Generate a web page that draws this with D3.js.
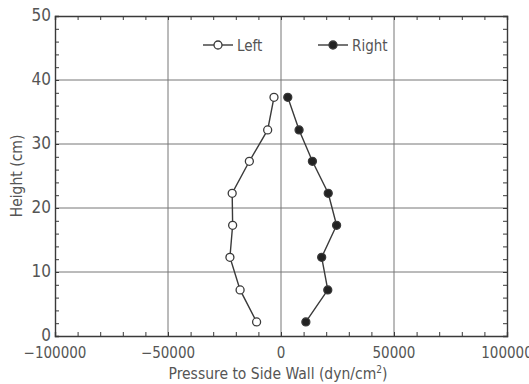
<!DOCTYPE html>
<html><head><meta charset="utf-8">
<script src="https://cdn.jsdelivr.net/npm/d3@7"></script>
<style>
body{margin:0;background:#fff;}
text{font-family:"Liberation Sans Narrow","DejaVu Sans Condensed","Liberation Sans",sans-serif;fill:#555;}
</style></head>
<body><svg id="c" width="529" height="384"></svg>
<script>
const heights = [37.3, 32.2, 27.3, 22.3, 17.3, 12.3, 7.2, 2.2];
const leftValues = [-3100, -5900, -14000, -21600, -21400, -22600, -18100, -10800];
const rightValues = [3000, 8000, 13900, 20900, 24600, 18000, 20700, 11000];
const xTicks = [-100000, -50000, 0, 50000, 100000];
const yTicks = [0, 10, 20, 30, 40, 50];
const seriesNames = ["Left", "Right"];

const svg = d3.select("#c");
const m = {l:55, r:22, t:16, b:48};
const W = 529, H = 384;
const x = d3.scaleLinear().domain([-100000, 100000]).range([m.l, W - m.r]);
const y = d3.scaleLinear().domain([0, 50]).range([H - m.b, m.t]);
const ink = "#3a3a3a";

// gridlines
const g = svg.append("g");
g.selectAll(".gx").data(xTicks.slice(1, -1)).join("line")
  .attr("x1", d => x(d)).attr("x2", d => x(d)).attr("y1", y(0)).attr("y2", y(50))
  .attr("stroke", "#777").attr("stroke-width", 1);
g.selectAll(".gy").data(yTicks.slice(1, -1)).join("line")
  .attr("y1", d => y(d)).attr("y2", d => y(d)).attr("x1", x(-100000)).attr("x2", x(100000))
  .attr("stroke", "#777").attr("stroke-width", 1);

// axes (inner minor ticks)
const xMinor = d3.range(-100000, 100001, 10000);
const yMinor = d3.range(0, 50.01, 2);
svg.append("g").attr("transform", `translate(0,${y(0)})`)
  .call(d3.axisBottom(x).tickValues(xMinor).tickSize(-4).tickFormat(""))
  .call(a => a.select(".domain").attr("stroke", ink).attr("stroke-width", 1.4))
  .call(a => a.selectAll(".tick line").attr("stroke", ink));
svg.append("g").attr("transform", `translate(0,${y(50)})`)
  .call(d3.axisTop(x).tickValues(xMinor).tickSize(-4).tickFormat(""))
  .call(a => a.select(".domain").attr("stroke", ink).attr("stroke-width", 1.4))
  .call(a => a.selectAll(".tick line").attr("stroke", ink));
svg.append("g").attr("transform", `translate(${x(-100000)},0)`)
  .call(d3.axisLeft(y).tickValues(yMinor).tickSize(-4).tickFormat(""))
  .call(a => a.select(".domain").attr("stroke", ink).attr("stroke-width", 1.4))
  .call(a => a.selectAll(".tick line").attr("stroke", ink));
svg.append("g").attr("transform", `translate(${x(100000)},0)`)
  .call(d3.axisRight(y).tickValues(yMinor).tickSize(-4).tickFormat(""))
  .call(a => a.select(".domain").attr("stroke", ink).attr("stroke-width", 1.4))
  .call(a => a.selectAll(".tick line").attr("stroke", ink));

// tick labels
svg.append("g").selectAll("text").data(xTicks).join("text")
  .attr("x", d => x(d)).attr("y", y(0) + 22).attr("text-anchor", "middle")
  .attr("font-size", 15)
  .text(d => d < 0 ? "\u2212" + Math.abs(d) : d);
svg.append("g").selectAll("text").data(yTicks).join("text")
  .attr("x", x(-100000) - 4).attr("y", d => y(d) + 5).attr("text-anchor", "end")
  .attr("font-size", 17)
  .text(d => d);

// axis titles
svg.append("text").attr("x", 278).attr("y", 379).attr("text-anchor", "middle")
  .attr("font-size", 15.5)
  .html('Pressure to Side Wall (dyn/cm<tspan dy="-6" font-size="10">2</tspan><tspan dy="6">)</tspan>');
svg.append("text").attr("transform", `translate(22,${(y(0)+y(50))/2}) rotate(-90)`)
  .attr("text-anchor", "middle").attr("font-size", 15.5).text("Height  (cm)");

// series
const line = d3.line().x(d => x(d[0])).y(d => y(d[1]));
const leftPts = leftValues.map((v, i) => [v, heights[i]]);
const rightPts = rightValues.map((v, i) => [v, heights[i]]);
[[leftPts, "#fff"], [rightPts, "#222"]].forEach(([pts, fill]) => {
  svg.append("path").attr("d", line(pts)).attr("fill", "none").attr("stroke", ink).attr("stroke-width", 1.4);
  svg.append("g").selectAll("circle").data(pts).join("circle")
    .attr("cx", d => x(d[0])).attr("cy", d => y(d[1])).attr("r", 4)
    .attr("fill", fill).attr("stroke", ink).attr("stroke-width", 1.3);
});

// legend
const legend = [
  {name: seriesNames[0], x0: 203, fill: "#fff"},
  {name: seriesNames[1], x0: 318, fill: "#222"}
];
const lg = svg.append("g");
legend.forEach(l => {
  const ly = 45;
  lg.append("line").attr("x1", l.x0).attr("x2", l.x0 + 30).attr("y1", ly).attr("y2", ly)
    .attr("stroke", ink).attr("stroke-width", 1.4);
  lg.append("circle").attr("cx", l.x0 + 15).attr("cy", ly).attr("r", 4)
    .attr("fill", l.fill).attr("stroke", ink).attr("stroke-width", 1.3);
  lg.append("text").attr("x", l.x0 + 34).attr("y", ly + 5.5).attr("font-size", 15).text(l.name);
});
</script></body></html>
